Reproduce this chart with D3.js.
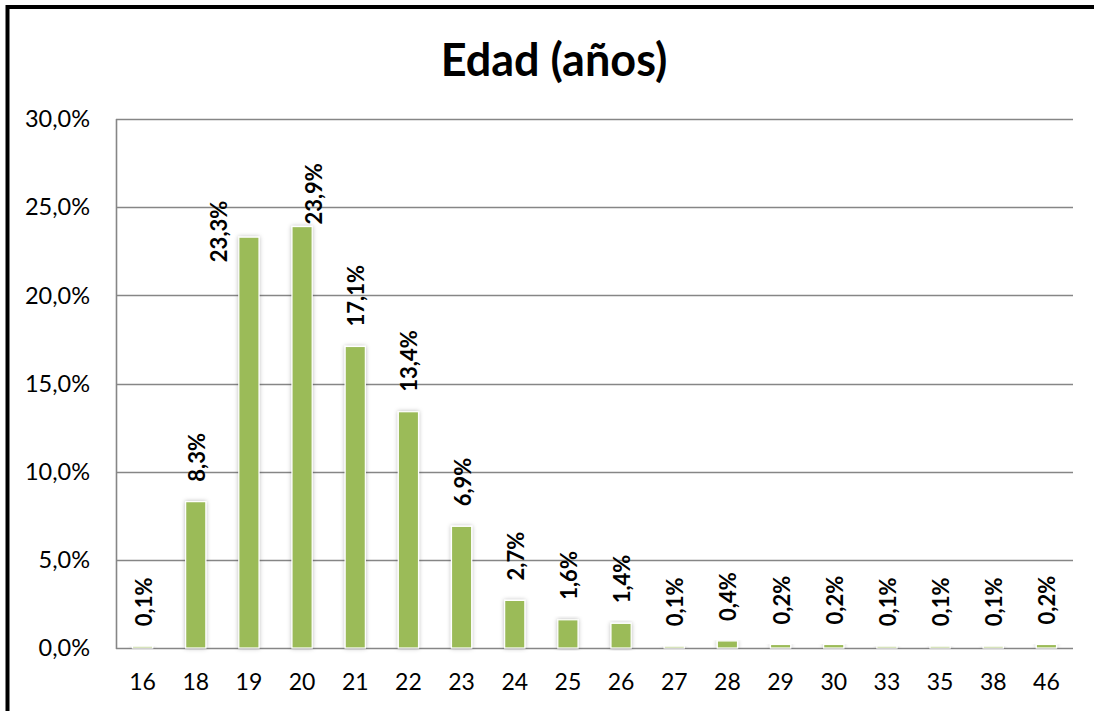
<!DOCTYPE html>
<html>
<head>
<meta charset="utf-8">
<script src="https://cdn.jsdelivr.net/npm/d3@7"></script>
<style>
  html, body { margin: 0; padding: 0; background: #fff; }
  svg { display: block; }
  text { font-family: Lato, "Open Sans", "Liberation Sans", sans-serif; }
</style>
</head>
<body>
<svg id="chart" width="1094" height="711"></svg>
<script>
// ---- data ----
const categories = ["16","18","19","20","21","22","23","24","25","26","27","28","29","30","33","35","38","46"];
const values = [0.1, 8.3, 23.3, 23.9, 17.1, 13.4, 6.9, 2.7, 1.6, 1.4, 0.1, 0.4, 0.2, 0.2, 0.1, 0.1, 0.1, 0.2];
const yTicks = [0, 5, 10, 15, 20, 25, 30];
const title = "Edad (años)";

// ---- layout ----
const W = 1094, H = 711;
const margin = { left: 116, right: 21, top: 119, bottom: 63 };
const svg = d3.select("#chart");

const locale = d3.formatLocale({ decimal: ",", thousands: ".", grouping: [3], currency: ["", "€"] });
const fmt = locale.format(".1f");

const x = d3.scaleBand().domain(categories).range([margin.left, W - margin.right]).paddingInner(0.62).paddingOuter(0.31);
const y = d3.scaleLinear().domain([0, 30]).range([H - margin.bottom, margin.top]);

// outer frame (extends past right & bottom edges)
svg.append("rect").attr("x", 7.5).attr("y", 7).attr("width", W + 20).attr("height", H + 20)
  .attr("fill", "none").attr("stroke", "#000").attr("stroke-width", 4);

// title
svg.append("text").attr("x", 554).attr("y", 76).attr("text-anchor", "middle")
  .attr("font-size", 45).attr("font-weight", 700).attr("fill", "#000").text(title);

// gridlines
const grid = svg.append("g");
grid.selectAll("line").data(yTicks).join("line")
  .attr("x1", margin.left).attr("x2", W - margin.right)
  .attr("y1", d => Math.round(y(d)) + 0.5).attr("y2", d => Math.round(y(d)) + 0.5)
  .attr("stroke", "#868686").attr("stroke-width", 1.6);
// vertical axis line
svg.append("line").attr("x1", margin.left + 0.5).attr("x2", margin.left + 0.5)
  .attr("y1", y(30)).attr("y2", y(0) + 1).attr("stroke", "#868686").attr("stroke-width", 1.6);

// y tick labels
svg.append("g").selectAll("text").data(yTicks).join("text")
  .attr("x", 90).attr("y", d => y(d)).attr("dy", "0.35em").attr("text-anchor", "end")
  .attr("font-size", 23.5).attr("fill", "#000").text(d => fmt(d) + "%");

// x tick labels
svg.append("g").selectAll("text").data(categories).join("text")
  .attr("x", d => x(d) + x.bandwidth() / 2).attr("y", 690).attr("text-anchor", "middle")
  .attr("font-size", 23).attr("fill", "#000").text(d => d);

// shadow filter
const defs = svg.append("defs");
const f = defs.append("filter").attr("id", "sh").attr("x", "-50%").attr("y", "-10%").attr("width", "200%").attr("height", "120%");
f.append("feDropShadow").attr("dx", 0).attr("dy", 0).attr("stdDeviation", 2.2)
  .attr("flood-color", "#000").attr("flood-opacity", 0.28);

// bars
svg.append("g").selectAll("rect").data(values).join("rect")
  .attr("x", (d, i) => x(categories[i]))
  .attr("y", d => y(d))
  .attr("width", x.bandwidth())
  .attr("height", d => y(0) - y(d))
  .attr("fill", "#9BBB59")
  .attr("stroke", "#fff").attr("stroke-width", 1.2)
  .attr("filter", "url(#sh)");

// data labels (rotated); small nudges where the original placed labels differently
const labelNudge = { "19": { dx: -30, dy: 45 }, "20": { dx: 12, dy: 18 } };
svg.append("g").selectAll("text").data(values).join("text")
  .attr("transform", (d, i) => {
    const c = categories[i];
    const n = labelNudge[c] || { dx: 1, dy: 0 };
    const cx = x(c) + x.bandwidth() / 2 + n.dx;
    const cy = y(d) - 20 + n.dy;
    return `translate(${cx},${cy}) rotate(-90)`;
  })
  .attr("dy", "0.36em").attr("text-anchor", "start")
  .attr("font-size", 22).attr("font-weight", 700).attr("fill", "#000")
  .text(d => fmt(d) + "%");
</script>
</body>
</html>
